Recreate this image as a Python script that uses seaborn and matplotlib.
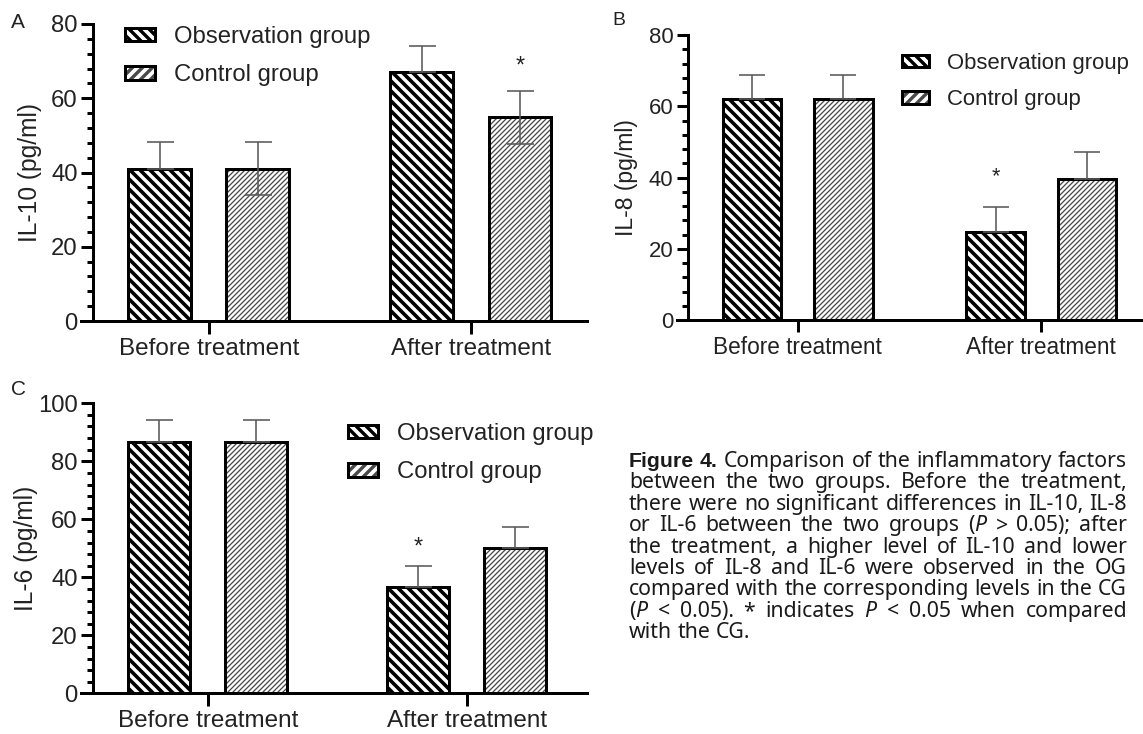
import numpy as np
import pandas as pd
import matplotlib
matplotlib.use("Agg")
import matplotlib.pyplot as plt
import matplotlib.patches as mpatches
from matplotlib.container import BarContainer
from matplotlib.ticker import MultipleLocator
from matplotlib.colors import to_rgba
import seaborn as sns

# ---------------- data ----------------
categories = ["Before treatment", "After treatment"]
groups = ["Observation group", "Control group"]

il10_obs = [41.0, 67.0]
il10_obs_sd = [7.2, 7.2]
il10_ctrl = [41.0, 54.9]
il10_ctrl_sd = [7.1, 7.1]

il8_obs = [62.0, 24.6]
il8_obs_sd = [6.7, 7.2]
il8_ctrl = [62.0, 39.6]
il8_ctrl_sd = [6.7, 7.5]

il6_obs = [86.8, 36.6]
il6_obs_sd = [7.4, 7.3]
il6_ctrl = [86.8, 50.0]
il6_ctrl_sd = [7.4, 7.4]

ylabels = ["IL-10 (pg/ml)", "IL-8 (pg/ml)", "IL-6 (pg/ml)"]
ymax = [80, 80, 100]
panel_letters = ["A", "B", "C"]
# bar marked with * (P < 0.05 vs CG)
stars = [("After treatment", "Control group"),
         ("After treatment", "Observation group"),
         ("After treatment", "Observation group")]

caption_lines = [
    ["B:Figure", "B:4.", "Comparison", "of", "the", "inflammatory", "factors"],
    "between the two groups. Before the treatment,".split(),
    "there were no significant differences in IL-10, IL-8".split(),
    ["or", "IL-6", "between", "the", "two", "groups", ["(", "I:P"], ">", "0.05);", "after"],
    "the treatment, a higher level of IL-10 and lower".split(),
    "levels of IL-8 and IL-6 were observed in the OG".split(),
    "compared with the corresponding levels in the CG".split(),
    [["(", "I:P"], "<", "0.05).", "*", "indicates", "I:P", "<", "0.05", "when", "compared"],
    "with the CG.".split(),
]

# ---------------- style ----------------
W, H = 1143, 734
DPI = 120
PT = 72.0 / DPI  # points per pixel

sns.set_theme(style="ticks")
plt.rcParams["font.family"] = ["Liberation Sans", "DejaVu Sans"]
plt.rcParams["hatch.linewidth"] = 3.4 * PT
plt.rcParams["hatch.color"] = "black"

TXT = "#222222"
ERR_C = "#5a5a5a"
CTRL_HATCH = "#4a4a4a"
CAP_FONT = ["Noto Sans", "DejaVu Sans"]
CAP_BOLD_FONT = ["Liberation Sans", "DejaVu Sans"]

fig = plt.figure(figsize=(W / DPI, H / DPI), dpi=DPI)
fig.patch.set_facecolor("white")

# layout in pixels: (left, top, right, bottom) of axes box, y-spine x, label centre x
panels = [
    dict(box=(81.4, 24.0, 587.0, 321.0), xlim=(-0.486, 1.443), spine=92.5, lab=29.6,
         s=1.0, leg=(125.0, 26.0), letter=(11.0, 28.0), low=True, star=29),
    dict(box=(677.0, 35.0, 1143.0, 320.0), xlim=(-0.495, 1.417), spine=687.7, lab=626.7,
         s=0.93, leg=(902.0, 53.0), letter=(612.0, 25.0), low=False, star=34),
    dict(box=(81.4, 403.3, 587.0, 693.3), xlim=(-0.489, 1.465), spine=92.5, lab=26.0,
         s=1.0, leg=(348.0, 423.0), letter=(11.0, 395.0), low=False, star=23),
]

series = [
    (il10_obs, il10_obs_sd, il10_ctrl, il10_ctrl_sd),
    (il8_obs, il8_obs_sd, il8_ctrl, il8_ctrl_sd),
    (il6_obs, il6_obs_sd, il6_ctrl, il6_ctrl_sd),
]


def style_patch(p, group, legend=False):
    p.set_facecolor("white")
    p.set_edgecolor("black")
    p.set_linewidth(3.0 * PT)
    if group == groups[0]:
        p.set_hatch("\\\\\\\\")
        hlw = 3.6 * PT
        hc = "black"
    else:
        p.set_hatch("////" if legend else "////////")
        hlw = 1.3 * PT
        hc = CTRL_HATCH
    try:
        p.set_hatchcolor(hc)
    except AttributeError:
        p._hatch_color = to_rgba(hc)
    try:
        p.set_hatch_linewidth(hlw)
    except AttributeError:
        pass


for i, (p, (obs, obs_sd, ctrl, ctrl_sd)) in enumerate(zip(panels, series)):
    l, t, r, b = p["box"]
    s = p["s"]
    fs = 14.3 * s
    ax = fig.add_axes([l / W, 1 - b / H, (r - l) / W, (b - t) / H])
    ax.set_facecolor("none")
    df = pd.DataFrame({
        "time": categories * 2,
        "group": [groups[0]] * 2 + [groups[1]] * 2,
        "value": list(obs) + list(ctrl),
        "sd": list(obs_sd) + list(ctrl_sd),
    })
    sns.barplot(data=df, x="time", y="value", hue="group", order=categories,
                hue_order=groups, palette=["white", "white"], saturation=1,
                width=0.75, gap=0.36, errorbar=None, edgecolor="black",
                linewidth=3.0 * PT, legend=False, ax=ax, zorder=2)

    bar_conts = [c for c in ax.containers if isinstance(c, BarContainer)]
    for gi, cont in enumerate(bar_conts):
        g = groups[gi]
        bars = sorted(cont.patches, key=lambda q: q.get_x())
        sds = df[df.group == g].set_index("time").loc[categories, "sd"].values
        for cat, bar, sd in zip(categories, bars, sds):
            style_patch(bar, g)
            xc = bar.get_x() + bar.get_width() / 2
            top = bar.get_height()
            lo = sd if (g == groups[1] and p["low"]) else 0.0
            ax.errorbar([xc], [top], yerr=[[lo], [sd]], fmt="none", ecolor=ERR_C,
                        elinewidth=1.6 * PT, capsize=13.5 * s * PT, capthick=1.6 * PT,
                        zorder=3)
            if (cat, g) == stars[i]:
                ax.annotate("*", xy=(xc, top + sd),
                            xytext=(0, (p["star"] - 10.5 * s) * PT),
                            textcoords="offset points", ha="center", va="baseline",
                            fontsize=14 * s, color=TXT, zorder=4)

    ax.set_xlim(*p["xlim"])
    ax.set_ylim(0, ymax[i])
    ax.yaxis.set_major_locator(MultipleLocator(20))
    ax.yaxis.set_minor_locator(MultipleLocator(4))
    ax.set_xlabel("")
    ax.set_ylabel(ylabels[i], fontsize=fs * 1.03, color=TXT)
    ax.yaxis.set_label_coords((p["lab"] - l) / (r - l), 0.5)
    ax.yaxis.label.set_verticalalignment("center")

    for side in ("top", "right"):
        ax.spines[side].set_visible(False)
    for side in ("left", "bottom"):
        ax.spines[side].set_linewidth(3.0 * PT)
        ax.spines[side].set_color("black")
    ax.spines["left"].set_position(("axes", (p["spine"] - l) / (r - l)))

    ax.tick_params(axis="y", which="major", length=12 * s * PT, width=3.0 * PT,
                   pad=3 * PT, labelsize=fs, labelcolor=TXT, color="black")
    ax.tick_params(axis="y", which="minor", length=6 * s * PT, width=3.0 * PT,
                   color="black")
    ax.tick_params(axis="x", which="major", length=13 * s * PT, width=3.0 * PT,
                   pad=4 * PT, labelsize=fs * 1.02, labelcolor=TXT, color="black")
    ax.tick_params(axis="x", which="minor", length=0)

    handles = []
    for g in groups:
        hp = mpatches.Patch()
        style_patch(hp, g, legend=True)
        handles.append(hp)
    lx, ly = p["leg"]
    leg = ax.legend(handles=handles, labels=groups, loc="upper left",
                    bbox_to_anchor=(lx / W, 1 - ly / H), bbox_transform=fig.transFigure,
                    frameon=False, fontsize=fs, handlelength=1.24, handleheight=0.5,
                    handletextpad=0.8, labelspacing=0.68, borderpad=0, borderaxespad=0)
    for txt in leg.get_texts():
        txt.set_color(TXT)

    fx, fy = p["letter"]
    fig.text(fx / W, 1 - fy / H, panel_letters[i], fontsize=12.5 * s, color=TXT,
             ha="left", va="baseline")

# ---------------- caption (justified) ----------------
renderer = fig.canvas.get_renderer()


def seg(tok):
    if tok.startswith("B:"):
        return tok[2:], dict(fontweight="bold", family=CAP_BOLD_FONT)
    if tok.startswith("I:"):
        return tok[2:], dict(fontstyle="italic", family=CAP_FONT)
    return tok, dict(family=CAP_FONT)


def measure(text, size, **kw):
    tt = fig.text(0, 0, text, fontsize=size, **kw)
    w = tt.get_window_extent(renderer).width
    tt.remove()
    return w


def word_segments(word):
    return word if isinstance(word, list) else [word]


def word_width(word, size):
    tot = 0.0
    for tok in word_segments(word):
        txt, kw = seg(tok)
        tot += measure(txt, size, **kw)
    return tot


CAP_L, CAP_R = 629.0, 1127.0
CAP_W = CAP_R - CAP_L
base = 10.0
sp0 = measure("a a", base, family=CAP_FONT) - measure("aa", base, family=CAP_FONT)
ref_line = caption_lines[2]
nat = sum(word_width(w, base) for w in ref_line) + sp0 * (len(ref_line) - 1)
cap_size = base * CAP_W / nat * 0.99
space = measure("a a", cap_size, family=CAP_FONT) - measure("aa", cap_size, family=CAP_FONT)

y0, dy = 467.0, 21.4
for li, words in enumerate(caption_lines):
    widths = [word_width(w, cap_size) for w in words]
    if li < len(caption_lines) - 1 and len(words) > 1:
        gap = (CAP_W - sum(widths)) / (len(words) - 1)
    else:
        gap = space
    x = CAP_L
    yb = y0 + dy * li
    for w in words:
        for tok in word_segments(w):
            txt, kw = seg(tok)
            fig.text(x / W, 1 - yb / H, txt, fontsize=cap_size, color="#1a1a1a",
                     ha="left", va="baseline", **kw)
            x += measure(txt, cap_size, **kw)
        x += gap

fig.savefig("out.png", dpi=DPI, facecolor="white")
